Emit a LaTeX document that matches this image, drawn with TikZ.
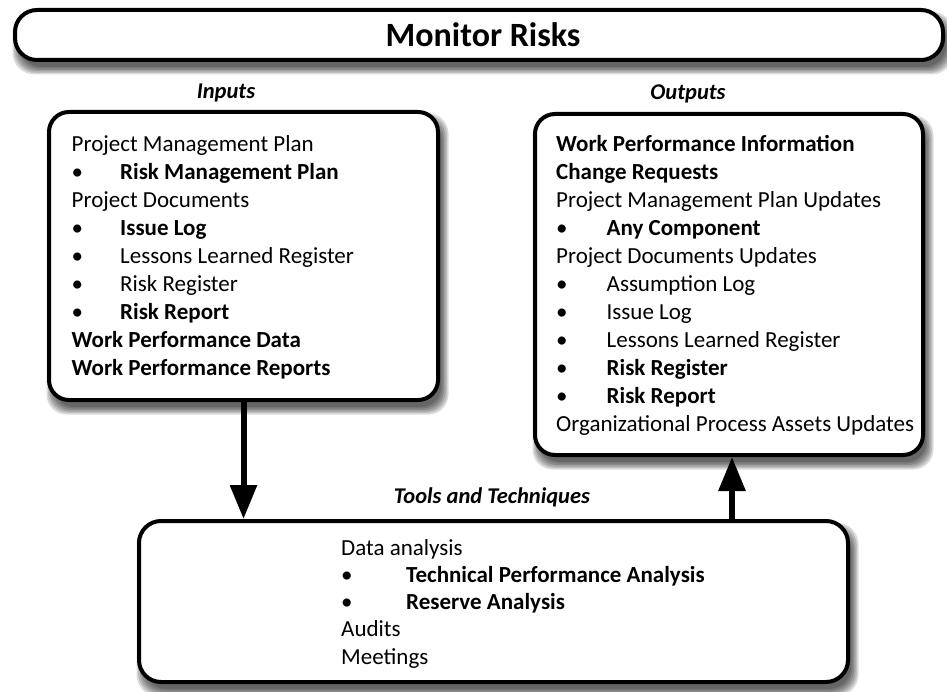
\documentclass[tikz,border=0pt]{standalone}
\usepackage{fontspec}
\setmainfont{Carlito}
\usetikzlibrary{arrows.meta}

\pgfdeclarelayer{shadow}
\pgfsetlayers{shadow,main}

% bullet line: bullet, a tab, then the entry
\newcommand\bulletrow[2][49pt]{\makebox[#1][l]{•}#2}
\newcommand\boxfont{\fontsize{23}{28}\selectfont}

% soft drop shadow under a named node, built from stacked translucent copies
\newcommand\softshadow[2][20pt]{%
  \begin{pgfonlayer}{shadow}
    \foreach \s [evaluate=\s as \lo using 4-\s, evaluate=\s as \hi using 4+\s,
                 evaluate=\s as \blo using -8-\s, evaluate=\s as \bhi using -8+\s]
        in {-3,-1.5,0,1.5,3,4.5} {
      \fill[black, opacity=0.14, rounded corners=#1]
        ([xshift=\lo pt, yshift=\blo pt]#2.south west) rectangle
        ([xshift=\hi pt, yshift=\bhi pt]#2.north east);
    }
  \end{pgfonlayer}}

\tikzset{
  panel/.style={draw=black, line width=4pt, fill=white, rounded corners=20pt},
  listtext/.style={anchor=base west, inner sep=0pt},
  caption/.style={anchor=base, inner sep=0pt,
    font=\fontsize{22.5}{27}\selectfont\bfseries\itshape},
  flow/.style={line width=6pt, -{Triangle[width=26pt,length=34pt]}},
}

\begin{document}
\begin{tikzpicture}[x=1pt, y=-1pt]
  \useasboundingbox (0,0) rectangle (947,692);

  % title bar
  \node[panel, rounded corners=22pt, minimum width=928pt, minimum height=50pt]
    (title) at (479,35) {};
  \node[anchor=base, inner sep=0pt, font=\fontsize{34}{40}\selectfont\bfseries]
    (titletext) at (483,46.7) {Monitor Risks};

  % section captions
  \node[caption] (incap)   at (226,98.5) {Inputs};
  \node[caption] (outcap)  at (688,99.5) {Outputs};
  \node[caption] (toolcap) at (492,503)  {Tools and Techniques};

  % the three panels
  \node[panel, minimum width=389pt, minimum height=288pt] (inbox)  at (243.5,256)   {};
  \node[panel, minimum width=388pt, minimum height=341pt] (outbox) at (729,284.5)   {};
  \node[panel, rounded corners=22pt, minimum width=709pt, minimum height=161pt]
    (tools) at (493.5,601.5) {};

  \softshadow[22pt]{title}
  \softshadow{inbox}
  \softshadow{outbox}
  \softshadow[22pt]{tools}

  % inputs
  \node[listtext, font=\boxfont] (intext) at (71.5,152) {%
    \begin{tabular}[t]{@{}l@{}}
      Project Management Plan\\
      \bulletrow[48.5pt]{\textbf{Risk Management Plan}}\\
      Project Documents\\
      \bulletrow[48.5pt]{\textbf{Issue Log}}\\
      \bulletrow[48.5pt]{Lessons Learned Register}\\
      \bulletrow[48.5pt]{Risk Register}\\
      \bulletrow[48.5pt]{\textbf{Risk Report}}\\
      \textbf{Work Performance Data}\\
      \textbf{Work Performance Reports}
    \end{tabular}};

  % outputs
  \node[listtext, font=\boxfont] (outtext) at (556,151.7) {%
    \begin{tabular}[t]{@{}l@{}}
      \textbf{Work Performance Information}\\
      \textbf{Change Requests}\\
      Project Management Plan Updates\\
      \bulletrow[50.5pt]{\textbf{Any Component}}\\
      Project Documents Updates\\
      \bulletrow[50.5pt]{Assumption Log}\\
      \bulletrow[50.5pt]{Issue Log}\\
      \bulletrow[50.5pt]{Lessons Learned Register}\\
      \bulletrow[50.5pt]{\textbf{Risk Register}}\\
      \bulletrow[50.5pt]{\textbf{Risk Report}}\\
      Organizational Process Assets Updates
    \end{tabular}};

  % tools and techniques
  \node[listtext, font=\fontsize{23}{27.3}\selectfont] (tooltext) at (341,555) {%
    \begin{tabular}[t]{@{}l@{}}
      Data analysis\\
      \bulletrow[65pt]{\textbf{Technical Performance Analysis}}\\
      \bulletrow[65pt]{\textbf{Reserve Analysis}}\\
      Audits\\
      Meetings
    \end{tabular}};

  % flow between panels
  \coordinate (upx) at (732,0);
  \draw[flow] (inbox.south) -- (inbox.south |- tools.north);
  \draw[flow] (tools.north -| upx) -- (outbox.south -| upx);
\end{tikzpicture}
\end{document}
